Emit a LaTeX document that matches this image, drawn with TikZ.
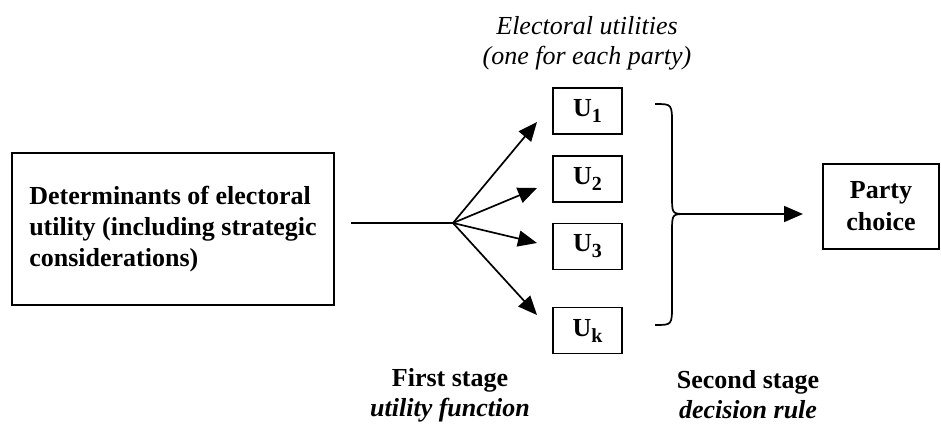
\documentclass[tikz,border=0pt]{standalone}
\usepackage{fontspec}
\setmainfont{Liberation Serif}
\usetikzlibrary{arrows.meta,calc}
\newcommand{\usub}[1]{U\raisebox{-6pt}{\fontsize{20}{20}\selectfont\bfseries #1}}
\begin{document}
\begin{tikzpicture}[x=1pt,y=-1pt,
  box/.style={draw,line width=1.8pt,inner sep=0pt},
  lbl/.style={font=\fontsize{26}{31}\selectfont,align=center},
  conn/.style={line width=1.7pt},
  arr/.style={conn,-{Triangle[length=19pt,width=16pt]}}]
\useasboundingbox (0,0) rectangle (941,424);
% left box
\node[box,font=\fontsize{26}{31}\selectfont\bfseries,align=left,
  minimum width=322pt,minimum height=152pt] (det) at (173,229)
  {Determinants of electoral\\utility (including strategic\\considerations)};
% utility boxes
\foreach \n/\s/\y in {u1/1/111, u2/2/179, u3/3/246.5, uk/k/330.5}
  \node[box,font=\fontsize{26}{31}\selectfont\bfseries,minimum width=69pt,minimum height=46pt] (\n) at (587.5,\y) {\usub{\s}};
% party choice
\node[box,lbl,font=\fontsize{26}{32}\selectfont\bfseries,minimum width=116pt,minimum height=85pt] (party) at (881,206.5) {Party\\choice};
% labels
\node[lbl,font=\fontsize{26}{30}\selectfont\itshape] (top) at (587,43) {Electoral utilities\\(one for each party)};
\node[lbl,font=\fontsize{26}{30}\selectfont] (first) at (450,395) {\textbf{First stage}\\\textbf{\itshape utility function}};
\node[lbl,font=\fontsize{26}{30}\selectfont] (second) at (748,395) {\textbf{Second stage}\\\textbf{\itshape decision rule}};
% fan
\coordinate (fan) at (453,223);
\coordinate (t1) at (537,122);
\coordinate (t2) at (537,188);
\coordinate (t3) at (537,243);
\coordinate (tk) at (537,315);
\draw[conn] (det.east |- fan) ++(16,0) coordinate (s) -- (fan);
\foreach \t in {t1,t2,t3,tk} \draw[arr] (fan) -- (\t);
% brace
\coordinate (cusp) at (686,214);
\draw[conn] (655,104) .. controls (672,104) .. (672,124) -- (672,196)
  .. controls (672,214) .. (cusp) .. controls (672,214) .. (672,232)
  -- (672,305) .. controls (672,325) .. (655,325);
\coordinate (pt) at (803,214);
\draw[arr] (cusp) -- (pt);
\end{tikzpicture}
\end{document}
